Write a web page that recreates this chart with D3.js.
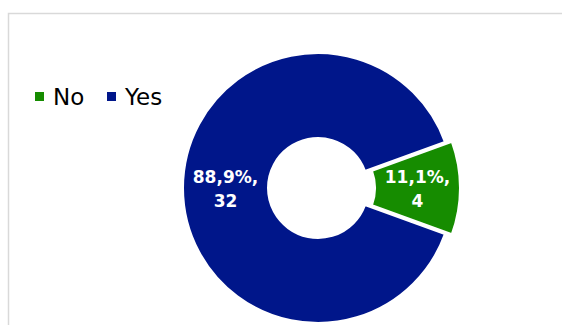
<!DOCTYPE html>
<html><head><meta charset="utf-8">
<script src="https://cdn.jsdelivr.net/npm/d3@7"></script>
<style>html,body{margin:0;padding:0;background:#fff;}svg{display:block;}</style>
</head><body>
<svg id="c" width="562" height="325"></svg>
<script>
const categories = ["No", "Yes"];
const values = [4, 32];
const colors = ["#168C00", "#00168A"];

const W = 562, H = 325;
const svg = d3.select("#c");
svg.append("rect").attr("x", 8.5).attr("y", 13.5).attr("width", 700).attr("height", 400)
  .attr("fill", "#fff").attr("stroke", "#d9d9d9").attr("stroke-width", 1.5);

const cx = 318, cy = 188, rOut = 135, rIn = 50, explode = 7;
const total = d3.sum(values);
const loc = d3.formatLocale({decimal: ",", thousands: ".", grouping: [3], currency: ["", "€"]});
const fmt = loc.format(".1%");

const data = categories.map((c, i) => ({cat: c, value: values[i], color: colors[i]}));
const start = 70 * Math.PI / 180;
const pie = d3.pie().sort(null).value(d => d.value).startAngle(start).endAngle(start + 2 * Math.PI);
const arc = d3.arc().innerRadius(rIn).outerRadius(rOut);
const arcs = pie(data);

const g = svg.append("g").attr("transform", `translate(${cx},${cy})`);
const slices = g.selectAll("g.s").data(arcs).join("g").attr("class", "s")
  .attr("transform", d => {
    if (d.data.cat !== "No") return null;
    const a = (d.startAngle + d.endAngle) / 2;
    return `translate(${explode * Math.sin(a)},${-explode * Math.cos(a)})`;
  });
slices.append("path").attr("d", arc).attr("fill", d => d.data.color)
  .attr("stroke", "#fff").attr("stroke-width", 2);
slices.each(function(d) {
  const [x, y] = arc.centroid(d);
  const t = d3.select(this).append("text").attr("text-anchor", "middle")
    .attr("font-family", "DejaVu Sans, Verdana, sans-serif").attr("font-weight", "bold")
    .attr("font-size", 17).attr("fill", "#fff");
  t.append("tspan").attr("x", x).attr("y", y - 5).text(fmt(d.data.value / total) + ",");
  t.append("tspan").attr("x", x).attr("y", y + 19).text(d.data.value);
});

// legend
const leg = svg.append("g");
const lx = [35, 107];
data.forEach((d, i) => {
  leg.append("rect").attr("x", lx[i]).attr("y", 92).attr("width", 9).attr("height", 9).attr("fill", d.color);
  leg.append("text").attr("x", lx[i] + 18).attr("y", 105)
    .attr("font-family", "DejaVu Sans, Verdana, sans-serif").attr("font-size", 23)
    .attr("fill", "#000").text(d.cat);
});
</script>
</body></html>
